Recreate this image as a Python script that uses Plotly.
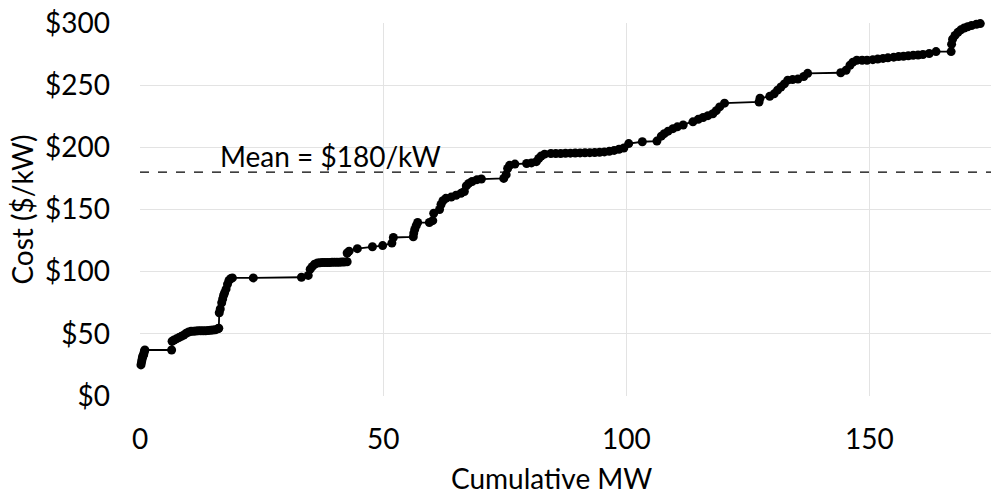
import plotly.graph_objects as go

cum_mw = [0.2, 0.3, 0.4, 0.5, 0.6, 0.7, 0.8, 0.9, 1.0,
          6.5, 6.6, 7.0, 7.5, 8.0, 8.5, 9.0, 9.5, 10.0, 10.5, 11.0, 11.5, 12.0, 12.5, 13.0, 13.5,
          14.0, 14.5, 15.0, 15.5, 16.0, 16.2,
          16.3, 16.5, 16.8, 17.0, 17.2, 17.4, 17.7, 18.0, 18.3, 18.7, 19.0,
          23.3, 33.2, 34.6, 35.0, 35.4, 35.9, 36.5, 37.0, 37.5, 38.0, 38.5, 39.0, 39.5, 40.0,
          40.5, 41.0, 41.5, 42.0, 42.6,
          42.6, 43.0, 44.7, 47.8, 49.9, 51.8, 52.1, 56.2,
          56.3, 56.5, 56.8, 57.1, 59.5, 60.2, 60.4, 61.6, 61.9, 62.3, 62.9, 64.0, 65.0, 66.0,
          66.7, 67.1, 67.6, 68.3, 69.3, 70.2, 74.8, 75.3, 75.6, 76.0, 77.1, 79.5, 80.5, 81.5,
          82.0, 82.5, 83.2, 84.5, 85.5, 86.5, 87.5, 88.5, 89.5, 90.5, 91.5, 92.5, 93.5, 94.5,
          95.5, 96.5, 97.5, 98.5, 99.5, 100.5, 103.3, 106.3, 107.2, 107.8, 108.6, 109.6, 110.5,
          111.7, 113.7, 114.8, 115.8, 116.8, 117.8, 118.5, 119.2, 120.2, 127.3, 127.5, 129.5,
          130.4, 131.1, 131.8, 132.5, 133.2, 134.2, 135.3, 136.5, 137.3, 144.1, 145.2, 146.0,
          146.6, 147.4, 148.5, 149.5, 150.7, 151.7, 152.8, 153.8, 155.0, 156.0, 157.0, 158.0,
          159.0, 160.0, 161.0, 162.3, 163.7, 166.8, 166.9, 167.1, 167.6, 168.2, 168.8, 169.5,
          170.2, 171.0, 172.0, 172.8]

cost = [25, 27, 29, 31, 32, 33, 34, 36, 37,
        37, 44, 45, 46, 47, 48, 49, 50.5, 51.5, 52, 52, 52.3, 52.5, 52.5, 52.5, 52.5,
        52.6, 52.8, 53, 53.3, 54, 54.5,
        67, 70, 75, 78, 81, 83, 86, 90, 93, 94.5, 95,
        95, 95.5, 97, 102, 104, 106, 107, 107.2, 107.3, 107.3, 107.4, 107.4, 107.5, 107.5,
        107.6, 107.6, 107.7, 107.8, 108,
        115, 116.5, 118.5, 120, 121, 123, 127.5, 128,
        131, 134, 137, 139.5, 139.5, 141, 147, 150, 154, 157, 159, 160, 161.5, 163,
        164.5, 169, 171, 172.5, 174, 174.5, 175, 178, 183, 185.5, 186.5, 187, 187.5, 188.5,
        191, 193, 194.5, 195, 195, 195, 195.2, 195.3, 195.4, 195.5, 195.6, 195.7, 195.8, 196,
        196.3, 196.8, 197.5, 198.5, 199.5, 203, 204.5, 205, 209, 211, 213, 215, 216.5,
        218, 220.5, 222.5, 224, 225.5, 227, 229.5, 232.5, 235.5, 236.5, 239.5, 241,
        243, 246, 248.5, 251, 254, 254.5, 255, 257, 259.5, 260, 262, 266,
        268.5, 270, 270, 270, 270.5, 271, 271.5, 272, 272.5, 273, 273.3, 273.7,
        274, 274.3, 274.7, 275.5, 277, 277, 283, 287, 290, 292.5, 294.5, 296,
        297, 298, 299, 299.5]

MEAN = 180
x_ticks = [0, 50, 100, 150]
y_ticks = [0, 50, 100, 150, 200, 250, 300]
y_tick_text = ["$0", "$50", "$100", "$150", "$200", "$250", "$300"]

FONT = "Lato"
FS = 28

fig = go.Figure()
fig.add_trace(go.Scatter(
    x=cum_mw, y=cost, mode="lines+markers",
    line=dict(color="black", width=1.8),
    marker=dict(color="black", size=9),
    showlegend=False, cliponaxis=False,
))

fig.add_shape(type="line", xref="x", yref="y", x0=0, x1=175, y0=MEAN, y1=MEAN,
              line=dict(color="black", width=1.2, dash="dash"))
fig.add_annotation(x=16, y=193, xref="x", yref="y", text="Mean = $180/kW",
                   showarrow=False, xanchor="left", yanchor="middle",
                   font=dict(family=FONT, size=28, color="black"))
fig.add_annotation(x=0.484, y=-(478 - 396) / (396 - 23), xref="paper", yref="paper",
                   text="Cumulative MW", showarrow=False, xanchor="center", yanchor="middle",
                   font=dict(family=FONT, size=FS, color="black"))

fig.update_layout(
    width=1007, height=495,
    margin=dict(l=140, r=16, t=23, b=99),
    paper_bgcolor="white", plot_bgcolor="white",
    font=dict(family=FONT, size=FS, color="black"),
)

fig.update_xaxes(range=[0, 175], tickvals=x_ticks, showgrid=True, gridcolor="#e3e3e3",
                 gridwidth=1, zeroline=False, showline=False, ticklabelstandoff=24,
                 automargin=False, tickfont=dict(size=FS))
fig.update_yaxes(range=[0, 300], tickvals=y_ticks, ticktext=y_tick_text, showgrid=True,
                 gridcolor="#e3e3e3", gridwidth=1, zeroline=False, showline=False,
                 ticklabelstandoff=29, automargin=False,
                 title=dict(text="Cost ($/kW)", standoff=3, font=dict(size=FS)),
                 tickfont=dict(size=FS))

fig.write_html("out.html")
